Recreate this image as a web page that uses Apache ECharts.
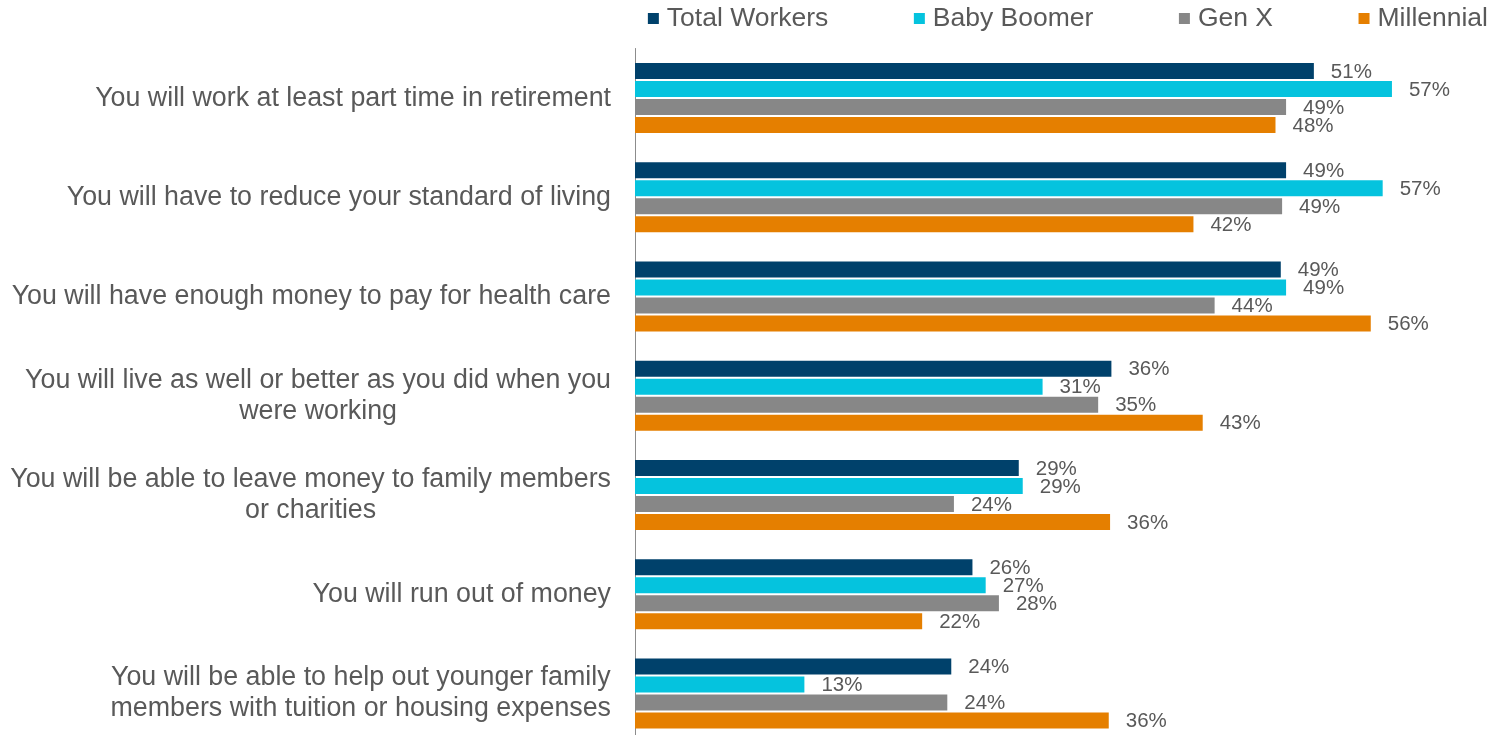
<!DOCTYPE html>
<html>
<head>
<meta charset="utf-8">
<script src="https://cdn.jsdelivr.net/npm/echarts@6/dist/echarts.min.js"></script>
<style>
  html, body { margin: 0; padding: 0; background: #fff; }
  #chart { width: 1489px; height: 735px; }
</style>
</head>
<body>
<div id="chart"></div>
<script>
const categories = [
  'You will work at least part time in retirement',
  'You will have to reduce your standard of living',
  'You will have enough money to pay for health care',
  'You will live as well or better as you did when you\nwere working',
  'You will be able to leave money to family members\nor charities',
  'You will run out of money',
  'You will be able to help out younger family\nmembers with tuition or housing expenses'
]
const seriesNames = ['Total Workers', 'Baby Boomer', 'Gen X', 'Millennial']
// bar lengths, labels show the rounded value
const totalWorkers = [51.3, 49.2, 48.8, 36.0, 29.0, 25.5, 23.9]
const babyBoomer = [57.2, 56.5, 49.2, 30.8, 29.3, 26.5, 12.8]
const genX = [49.2, 48.9, 43.8, 35.0, 24.1, 27.5, 23.6]
const millennial = [48.4, 42.2, 55.6, 42.9, 35.9, 21.7, 35.8]
const colors = ['#00416B', '#05C3DE', '#878787', '#E57F00']

const font = 'Liberation Sans, Arial, sans-serif'
const textColor = '#595959'

const chart = echarts.init(document.getElementById('chart'))

function makeSeries(name, data, color) {
  return {
    name: name,
    type: 'bar',
    data: data,
    barWidth: 16,
    barGap: '12.5%',
    itemStyle: { color: color },
    label: {
      show: true,
      position: 'right',
      distance: 17,
      offset: [0, 1],
      color: textColor,
      fontSize: 20.5,
      fontFamily: font,
      formatter: p => Math.round(p.value) + '%'
    }
  }
}

const option = {
  animation: false,
  legend: {
    data: seriesNames,
    right: 1,
    top: 5,
    padding: 0,
    itemWidth: 11,
    itemHeight: 11,
    itemGap: 85.5,
    icon: 'rect',
    textStyle: {
      color: textColor,
      fontSize: 26.5,
      fontFamily: font,
      padding: [0, 0, 0, 3]
    }
  },
  grid: {
    left: 635,
    top: 48.5,
    width: 794,
    height: 694.5,
    containLabel: false,
    outerBoundsMode: 'none'
  },
  xAxis: {
    type: 'value',
    min: 0,
    max: 60,
    show: false
  },
  yAxis: {
    type: 'category',
    inverse: true,
    data: categories,
    axisTick: { show: false },
    axisLine: { show: true, lineStyle: { color: '#8c8c8c', width: 1 } },
    axisLabel: {
      margin: 24,
      align: 'right',
      formatter: v => v.split('\n').map(l => '{c|' + l + '}').join('\n'),
      rich: {
        c: {
          align: 'center',
          color: textColor,
          fontSize: 26.8,
          lineHeight: 31,
          fontFamily: font
        }
      }
    }
  },
  series: [
    makeSeries(seriesNames[0], totalWorkers, colors[0]),
    makeSeries(seriesNames[1], babyBoomer, colors[1]),
    makeSeries(seriesNames[2], genX, colors[2]),
    makeSeries(seriesNames[3], millennial, colors[3])
  ]
}

chart.setOption(option)
</script>
</body>
</html>
